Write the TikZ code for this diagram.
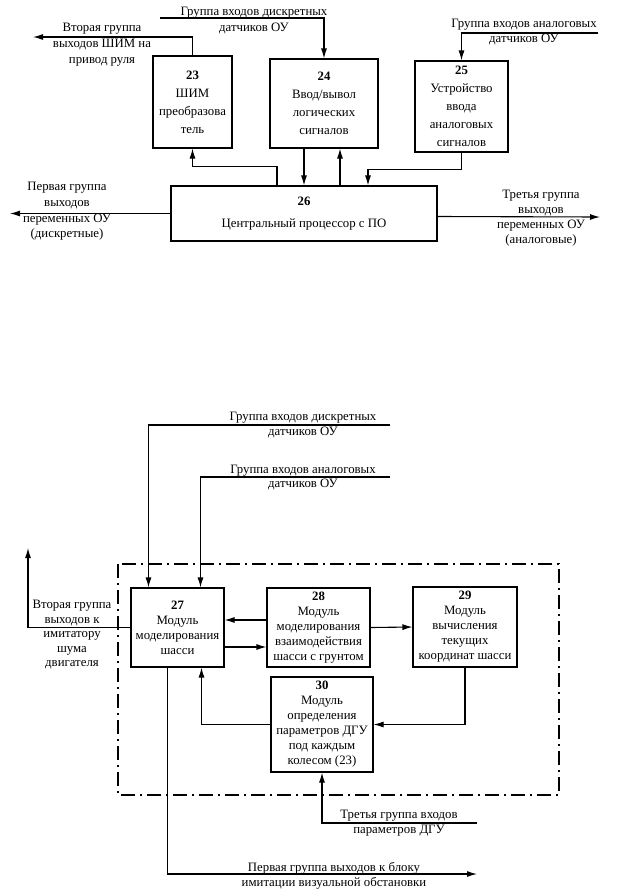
\documentclass[tikz,border=0pt]{standalone}
\usepackage{fontspec}
\setmainfont{Liberation Serif}
\usetikzlibrary{arrows.meta}

\tikzset{
  blk/.style={draw, line width=1.1pt, align=center, inner sep=0pt},
  lbl/.style={align=center, inner sep=0pt},
  arr/.style={line width=1.1pt, -{Latex[length=10pt,width=6pt]}},
  frame/.style={line width=2pt, dash pattern=on 14pt off 5pt on 2pt off 5pt},
}

\begin{document}
\begin{tikzpicture}[x=1pt, y=-1pt, font=\fontsize{12.8}{15}\selectfont]
	\useasboundingbox (0,0) rectangle (618,895);

	% upper scheme
	\node[blk, minimum width=79pt, minimum height=92pt, font=\fontsize{12.8}{18}\selectfont] (b23) at (192.5,102) {\textbf{23}\\ШИМ\\преобразова\\тель};
	\node[blk, minimum width=108pt, minimum height=89pt, font=\fontsize{12.8}{18}\selectfont] (b24) at (324,103.5) {\textbf{24}\\Ввод/вывол\\логических\\сигналов};
	\node[blk, minimum width=93pt, minimum height=91pt, font=\fontsize{12.8}{18}\selectfont] (b25) at (461.5,106.5) {\textbf{25}\\Устройство\\ввода\\аналоговых\\сигналов};
	\node[blk, minimum width=266pt, minimum height=55pt, font=\fontsize{12.8}{22}\selectfont] (b26) at (304,213.5) {\textbf{26}\\Центральный процессор с ПО};

	\coordinate (dIn) at (160,18);
	\coordinate (aIn) at (598,33);
	\coordinate (pwmOut) at (33,37);
	\coordinate (dOut) at (10,213.5);
	\coordinate (aOut) at (600,217);

	\draw[arr] (dIn) -| (b24.north);
	\draw[arr] (aIn) -| (b25.north);
	\draw[arr] (b23.north) |- (pwmOut);
	\draw[arr] ([xshift=-27pt]b26.north) -- ++(0,-19) -| (b23.south);
	\draw[arr] (b24.south -| b26.north) -- (b26.north);
	\draw[arr] ([xshift=36pt]b26.north) -- ([xshift=16pt]b24.south);
	\draw[arr] (b25.south) -- ++(0,17) -| ([xshift=64pt]b26.north);
	\draw[arr] (b26.west) -- (dOut);
	\draw[arr] ([yshift=-3pt]b26.east) -- (aOut);

	\node[lbl, font=\fontsize{12.8}{16}\selectfont] (tDIn) at (254,21) {Группа входов дискретных\\датчиков ОУ};
	\node[lbl] (tAIn) at (524,32.5) {Группа входов аналоговых\\датчиков ОУ};
	\node[lbl, font=\fontsize{12.8}{16}\selectfont] (tPwm) at (102,45) {Вторая группа\\выходов ШИМ на\\привод руля};
	\node[lbl, font=\fontsize{12.8}{15.7}\selectfont] (tDOut) at (67,211.5) {Первая группа\\выходов\\переменных ОУ\\(дискретные)};
	\node[lbl] (tAOut) at (541,218) {Третья группа\\выходов\\переменных ОУ\\(аналоговые)};

	% lower scheme
	\draw[frame] (118,564) rectangle (559,795);

	\node[blk, minimum width=93pt, minimum height=79pt] (b27) at (177.5,627.5) {\textbf{27}\\Модуль\\моделирования\\шасси};
	\node[blk, minimum width=103pt, minimum height=79pt] (b28) at (318.5,627.5) {\textbf{28}\\Модуль\\моделирования\\взаимодействия\\шасси с грунтом};
	\node[blk, minimum width=104pt, minimum height=80pt] (b29) at (465,627) {\textbf{29}\\Модуль\\вычисления\\текущих\\координат шасси};
	\node[blk, minimum width=102pt, minimum height=95pt] (b30) at (322,724.5) {\textbf{30}\\Модуль\\определения\\параметров ДГУ\\под каждым\\колесом (23)};

	\coordinate (dIn2) at (390,425);
	\coordinate (aIn2) at (390,477);
	\coordinate (nOut) at (28,548);
	\coordinate (vOut) at (477,874);
	\coordinate (gIn) at (477,823);

	\draw[arr] (dIn2) -| ([xshift=-29pt]b27.north);
	\draw[arr] (aIn2) -| ([xshift=23pt]b27.north);
	\draw[arr] (b27.west) -| (nOut);
	\draw[arr] ([yshift=7.5pt]b28.west) -- ([yshift=7.5pt]b27.east);
	\draw[arr] ([yshift=-19.5pt]b27.east) -- ([yshift=-19.5pt]b28.west);
	\draw[arr] (b28.east) -- (b29.west);
	\draw[arr] (b29.south) |- (b30.east);
	\draw[arr] (b30.west) -| ([xshift=24pt]b27.south);
	\draw[arr] ([xshift=-10pt]b27.south) |- (vOut);
	\draw[arr] (gIn) -| (b30.south);

	\node[lbl] (tDIn2) at (303,425.5) {Группа входов дискретных\\датчиков ОУ};
	\node[lbl, font=\fontsize{12.8}{14}\selectfont] (tAIn2) at (303,478) {Группа входов аналоговых\\датчиков ОУ};
	\node[lbl, font=\fontsize{12.8}{14.5}\selectfont] (tNOut) at (72,635) {Вторая группа\\выходов к\\имитатору\\шума\\двигателя};
	\node[lbl] (tGIn) at (399,823.5) {Третья группа входов\\параметров ДГУ};
	\node[lbl] (tVOut) at (334,875.5) {Первая группа выходов к блоку\\имитации визуальной обстановки};

\end{tikzpicture}
\end{document}
